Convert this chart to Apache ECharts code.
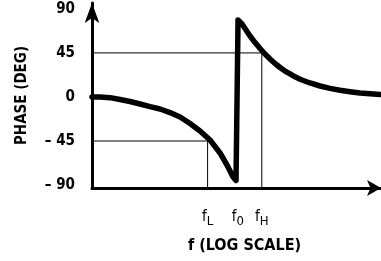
<!DOCTYPE html>
<html>
<head>
<meta charset="utf-8">
<script src="https://cdn.jsdelivr.net/npm/echarts@6/dist/echarts.min.js"></script>
<style>
  html, body { margin: 0; padding: 0; background: #fff; }
  #phase { width: 381px; height: 261px; }
</style>
</head>
<body>
<div id="phase"></div>
<script>
// frequency relative to f0 (log axis), phase in degrees
const fMin = 0.035, fMax = 27;
const phaseMin = -93, phaseMax = 96;
const fL = 0.5, f0 = 1, fH = 1.74;

// phase curve
const freq  = [0.035, 0.0421, 0.053, 0.0667, 0.0839, 0.1057, 0.133, 0.1674, 0.2107, 0.2652, 0.3338, 0.4201, 0.5288, 0.6655, 0.80, 0.8975, 0.9616,
               1.007, 1.104, 1.21, 1.327, 1.489, 1.671, 1.874, 2.102, 2.358, 2.646, 2.969, 3.331, 3.737, 4.193, 5.277, 6.642, 8.36, 10.52, 13.24, 16.67, 20.98, 26.4];
const phase = [0, 0, -0.7, -2.6, -4.6, -7.2, -9.8, -12.3, -15.9, -20.5, -27.1, -34.8, -44, -57.2, -71.5, -81.7, -85.3,
               78.6, 74.5, 68.4, 62.3, 55.6, 49.5, 43.9, 38.8, 34.2, 30.1, 26.5, 23.5, 20.6, 18.1, 14.3, 11.2, 8.8, 6.9, 5.4, 4.1, 3.2, 2.5];

const yTickValues = [-90, -45, 0, 45, 90];
const yTickLabels = ['\u2013 90', '\u2013 45', '0', '45', '90'];
const xTickValues = [fL, f0, fH];
const xTickSubs = ['L', '0', 'H'];

// thin guide lines at -45 deg / fL and +45 deg / fH
const lowGuide  = [[fMin, -45], [fL, -45], [fL, phaseMin]];
const highGuide = [[fMin, 45], [fH, 45], [fH, phaseMin]];

const FONT = '"Liberation Sans Narrow", "DejaVu Sans Condensed", "Liberation Sans", sans-serif';

function nearestIndex(list, v) {
  let best = 0;
  for (let i = 1; i < list.length; i++) {
    if (Math.abs(list[i] - v) < Math.abs(list[best] - v)) best = i;
  }
  return best;
}

let chartDom = document.getElementById('phase');
let myChart = echarts.init(chartDom);
let option;

let curve = [];
for (let i = 0; i < freq.length; i++) {
  curve.push([freq[i], phase[i]]);
}

option = {
  animation: false,
  grid: { left: 92, right: 0, top: 3, bottom: 73 },
  xAxis: {
    type: 'log',
    logBase: 10,
    min: fMin,
    max: fMax,
    name: 'f (LOG SCALE)',
    nameLocation: 'middle',
    nameGap: 50,
    nameTextStyle: { color: '#000', fontFamily: FONT, fontWeight: 'bold', fontSize: 16, padding: [0, 0, 0, 16] },
    axisLine: {
      onZero: false,
      lineStyle: { color: '#000', width: 3 },
      symbol: ['none', 'arrow'],
      symbolSize: [12, 14]
    },
    axisTick: { show: false },
    splitLine: { show: false },
    minorTick: { show: false },
    axisLabel: {
      customValues: xTickValues,
      margin: 19,
      formatter: function (v) {
        return '{f|f}{s|' + xTickSubs[nearestIndex(xTickValues, v)] + '}';
      },
      rich: {
        f: { color: '#000', fontFamily: FONT, fontSize: 15, lineHeight: 18, verticalAlign: 'bottom' },
        s: { color: '#000', fontFamily: FONT, fontSize: 13, lineHeight: 18, verticalAlign: 'bottom', padding: [0, 0, -3, 0] }
      }
    }
  },
  yAxis: {
    type: 'value',
    min: phaseMin,
    max: phaseMax,
    name: 'PHASE (DEG)',
    nameLocation: 'middle',
    nameGap: 62,
    nameTextStyle: { color: '#000', fontFamily: FONT, fontWeight: 'bold', fontSize: 15 },
    axisLine: {
      onZero: false,
      lineStyle: { color: '#000', width: 3 },
      symbol: ['none', 'arrow'],
      symbolSize: [11, 20]
    },
    axisTick: { show: false },
    splitLine: { show: false },
    axisLabel: {
      customValues: yTickValues,
      margin: 17,
      color: '#000',
      fontFamily: FONT,
      fontWeight: 'bold',
      fontSize: 15,
      formatter: function (v) {
        return yTickLabels[nearestIndex(yTickValues, v)];
      }
    }
  },
  series: [
    {
      type: 'line',
      data: lowGuide,
      symbol: 'none',
      silent: true,
      lineStyle: { color: '#000', width: 1 }
    },
    {
      type: 'line',
      data: highGuide,
      symbol: 'none',
      silent: true,
      lineStyle: { color: '#000', width: 1 }
    },
    {
      type: 'line',
      data: curve,
      symbol: 'none',
      lineStyle: { color: '#000', width: 5.5, cap: 'round', join: 'round' }
    }
  ]
};

option && myChart.setOption(option);
</script>
</body>
</html>
